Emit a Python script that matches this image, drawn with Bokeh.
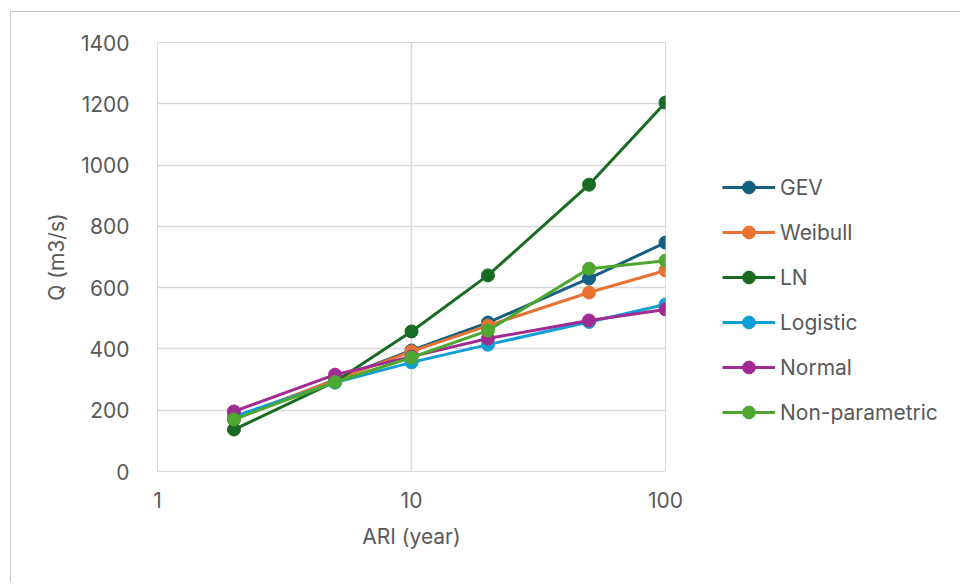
from bokeh.plotting import figure
from bokeh.models import FixedTicker, Legend, LegendItem, Range1d, CustomJSTickFormatter
from bokeh.embed import file_html
from bokeh.resources import INLINE

ari = [2, 5, 10, 20, 50, 100]
gev = [170, 300, 395, 486, 630, 747]
weibull = [175, 298, 392, 476, 584, 656]
ln = [137, 293, 457, 640, 936, 1204]
logistic = [180, 290, 356, 414, 488, 545]
normal = [196, 316, 375, 434, 493, 529]
nonparam = [170, 292, 372, 460, 662, 688]

series_names = ["GEV", "Weibull", "LN", "Logistic", "Normal", "Non-parametric"]
series_values = [gev, weibull, ln, logistic, normal, nonparam]
colors = ["#156082", "#E97132", "#196B24", "#0F9ED5", "#A02B93", "#4EA72E"]

x_ticks = [1, 10, 100]
y_ticks = [0, 200, 400, 600, 800, 1000, 1200, 1400]

FONT = "Inter"
TXT = "#595959"
GRID = "#d9d9d9"

p = figure(frame_width=508, frame_height=429, x_axis_type="log", output_backend="svg",
           toolbar_location=None, x_range=Range1d(1, 100), y_range=Range1d(0, 1400),
           min_border_left=146, min_border_top=30, min_border_right=5, min_border_bottom=111)
p.styles = {"margin-top": "11px", "margin-left": "10px",
            "border-top": "1px solid #c8c8c8", "border-left": "1px solid #c8c8c8"}
p.outline_line_color = GRID
p.outline_line_width = 1

p.xaxis.ticker = FixedTicker(ticks=x_ticks, minor_ticks=[])
p.xaxis.formatter = CustomJSTickFormatter(code="return tick.toString();")
p.yaxis.ticker = FixedTicker(ticks=y_ticks, minor_ticks=[])
p.xaxis.axis_label = "ARI (year)"
p.yaxis.axis_label = "Q (m3/s)"
for ax in (p.xaxis, p.yaxis):
    ax.axis_line_color = None
    ax.major_tick_line_color = None
    ax.minor_tick_line_color = None
    ax.major_label_text_font = FONT
    ax.major_label_text_font_size = "21px"
    ax.major_label_text_color = TXT
    ax.axis_label_text_font = FONT
    ax.axis_label_text_font_size = "21px"
    ax.axis_label_text_font_style = "normal"
    ax.axis_label_text_color = TXT
p.xaxis.major_label_standoff = 14
p.xaxis.axis_label_standoff = 13
p.yaxis.major_label_standoff = 22
p.yaxis.axis_label_standoff = 9
p.xgrid.grid_line_color = GRID
p.ygrid.grid_line_color = GRID
p.xgrid.grid_line_width = 1.5
p.ygrid.grid_line_width = 1.5

items = []
for name, vals, c in zip(series_names, series_values, colors):
    l = p.line(ari, vals, line_color=c, line_width=3)
    s = p.scatter(ari, vals, size=13, fill_color=c, line_color=c)
    items.append(LegendItem(label=name, renderers=[l, s]))

legend = Legend(items=items, location=(57, 43), orientation="vertical",
                glyph_width=53, glyph_height=32, label_height=32, spacing=13,
                label_standoff=5, padding=0, margin=0,
                label_text_font=FONT, label_text_font_size="21px", label_text_color=TXT,
                border_line_color=None, background_fill_alpha=0)
p.add_layout(legend, "right")

open("out.html", "w").write(file_html(p, INLINE))
